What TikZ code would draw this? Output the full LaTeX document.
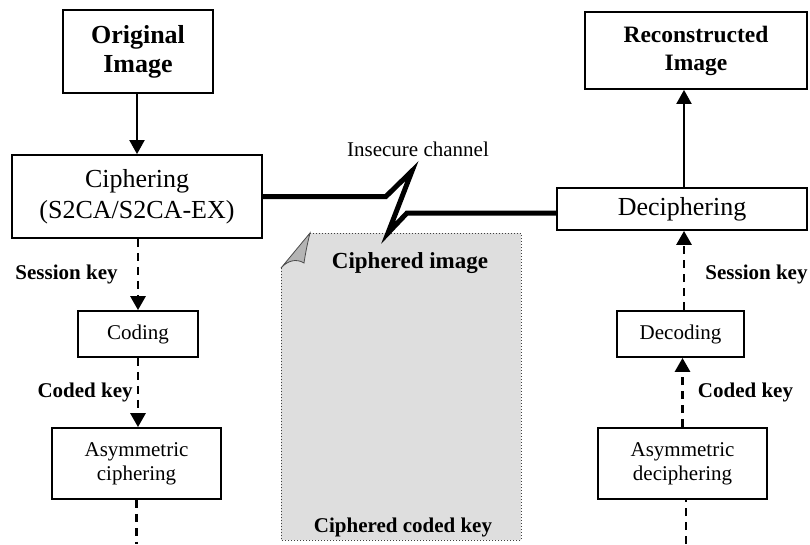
\documentclass[tikz,border=0pt]{standalone}
\usepackage{fontspec}
\setmainfont{Liberation Serif}
\usetikzlibrary{arrows.meta,positioning}
\definecolor{paper}{HTML}{DEDEDE}
\definecolor{curl}{HTML}{B4B4B4}
\tikzset{
  bigbox/.style={
    draw=black,
    line width=1.8pt,
    align=center,
    inner sep=0pt,
    font=\fontsize{26}{31}\selectfont
  },
  endbox/.style={
    bigbox,
    font=\bfseries\fontsize{26}{29}\selectfont
  },
  smallbox/.style={
    draw=black,
    line width=1.8pt,
    align=center,
    inner sep=0pt,
    font=\fontsize{21}{24}\selectfont
  },
  keylabel/.style={
    inner sep=0pt,
    font=\bfseries\fontsize{21}{24}\selectfont
  },
  flow/.style={
    line width=2pt,
    -{Triangle[length=14pt,width=15pt]}
  },
  keyflow/.style={
    line width=2.8pt,
    dash pattern=on 8pt off 6pt
  },
  channel/.style={
    line width=5pt,
    line join=miter
  }
}

\begin{document}
\begin{tikzpicture}[x=1pt,y=-1pt]
  \useasboundingbox (0,0) rectangle (810,544);

  % sender side
  \node[endbox, minimum width=150pt, minimum height=83pt] (orig) at (138,51.5)
    {Original\\Image};
  \node[bigbox, minimum width=250pt, minimum height=83pt] (ciph) at (137,196.5)
    {Ciphering\\(S2CA/S2CA-EX)};
  \node[smallbox, minimum width=120pt, minimum height=46pt] (coding) at (138,334)
    {Coding};
  \node[smallbox, minimum width=169pt, minimum height=71pt] (asym) at (136.5,463.5)
    {Asymmetric\\ciphering};

  % receiver side
  \node[endbox, font=\bfseries\fontsize{23.5}{28}\selectfont,
        minimum width=222pt, minimum height=77pt] (recon) at (696,50.5)
    {Reconstructed\\Image};
  \node[bigbox, minimum width=250pt, minimum height=42pt] (decipher) at (682,209)
    {Deciphering};
  \node[smallbox, minimum width=127pt, minimum height=46pt] (decoding) at (680.5,334)
    {Decoding};
  \node[smallbox, minimum width=169pt, minimum height=71pt] (asymdec) at (682.5,463.5)
    {Asymmetric\\deciphering};

  \coordinate (sendout) at (asym.south |- 0,544);
  \coordinate (recvin) at ([xshift=3.5pt]asymdec.south |- 0,544);

  % the ciphered document
  \fill[paper] (310,233) -- (521,233) -- (521,540) -- (281,540) -- (281,268) -- cycle;
  \draw[black!75, line width=1pt, dotted]
    (310,233) -- (521,233) -- (521,540) -- (281,540) -- (281,268);
  \draw[black!70, line width=0.8pt, fill=curl]
    (281,268) -- (310,233) .. controls (307,245) and (305,256) .. (304,263)
    .. controls (296,258) and (287,261) .. (281,268) -- cycle;
  \node[keylabel, font=\bfseries\fontsize{23}{27}\selectfont] (cimg) at (410,263)
    {Ciphered image};
  \node[keylabel] (ckey) at (403,527) {Ciphered coded key};

  % insecure channel
  \coordinate (kink) at (407,213);
  \draw[channel] (ciph.east) -- ++(123,0) -- (412,171) -- (388,233) -- (kink)
    -- (decipher.west |- kink);
  \node[font=\fontsize{21}{24}\selectfont] (insecure) at (418,149) {Insecure channel};

  % sender flows
  \draw[flow] (orig.south -| ciph.north) -- (ciph.north);
  \draw[keyflow, -{Triangle[length=14pt,width=15pt]}]
    (coding.north |- ciph.south) -- (coding.north)
    node[keylabel, midway, left=19pt] {Session key};
  \draw[keyflow, -{Triangle[length=14pt,width=15pt]}]
    (coding.south) -- (coding.south |- asym.north)
    node[keylabel, midway, left=4pt] {Coded key};
  \draw[keyflow] (asym.south) -- (sendout);

  % receiver flows
  \draw[keyflow] (recvin) -- (recvin |- asymdec.south);
  \draw[keyflow, -{Triangle[length=14pt,width=15pt]}]
    (asymdec.north) -- (asymdec.north |- decoding.south)
    node[keylabel, midway, right=14pt] {Coded key};
  \draw[keyflow, -{Triangle[length=14pt,width=15pt]}]
    ([xshift=3.5pt]decoding.north) -- ([xshift=3.5pt]decoding.north |- decipher.south)
    node[keylabel, midway, right=20pt, yshift=-4pt] {Session key};
  \draw[flow] ([xshift=2pt]decipher.north) -- ([xshift=2pt]decipher.north |- recon.south);
\end{tikzpicture}
\end{document}
